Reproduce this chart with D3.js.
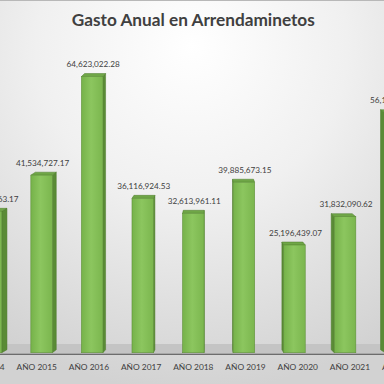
<!DOCTYPE html>
<html><head><meta charset="utf-8">
<script src="https://cdn.jsdelivr.net/npm/d3@7"></script>
<style>html,body{margin:0;padding:0;background:#fff}svg{display:block}</style>
</head><body>
<script>
const title = "Gasto Anual en Arrendaminetos";
const categories = ["AÑO 2014","AÑO 2015","AÑO 2016","AÑO 2017","AÑO 2018","AÑO 2019","AÑO 2020","AÑO 2021","AÑO 2022"];
const values = [33081863.17, 41534727.17, 64623022.28, 36116924.53, 32613961.11, 39885673.15, 25196439.07, 31832090.62, 56143617.42];

const W = 384, H = 384;
const svg = d3.select("body").append("svg").attr("width", W).attr("height", H);
const defs = svg.append("defs");
const bg = defs.append("radialGradient").attr("id","bg").attr("cx","50%").attr("cy","12%").attr("r","90%");
bg.append("stop").attr("offset","0%").attr("stop-color","#ffffff");
bg.append("stop").attr("offset","45%").attr("stop-color","#f0f0f0");
bg.append("stop").attr("offset","100%").attr("stop-color","#d2d2d2");
const fg = defs.append("linearGradient").attr("id","front").attr("x1","0").attr("x2","1").attr("y1","0").attr("y2","0");
fg.append("stop").attr("offset","0%").attr("stop-color","#76b24a");
fg.append("stop").attr("offset","45%").attr("stop-color","#8cc65f");
fg.append("stop").attr("offset","100%").attr("stop-color","#7bb64e");

svg.append("rect").attr("width",W).attr("height",H).attr("fill","url(#bg)");
svg.append("line").attr("x1",0).attr("x2",W).attr("y1",0.5).attr("y2",0.5).attr("stroke","#b8b8b8");

const base = 352.7;
const y = d3.scaleLinear().domain([0, 70e6]).range([base, base - 70*4.274]);
const x = d3.scalePoint().domain(categories).range([-34.29, 420.93]).padding(0.5);
const xl = d3.scalePoint().domain(categories).range([-41.6, 428.2]).padding(0.5);
const bw = 21.5, xv = 210, s = 0.975, dy = 3;
const back = v => xv + (v - xv)*s;

// floor
svg.append("rect").attr("x",0).attr("y",344).attr("width",W).attr("height",base+1-344).attr("fill","#c4c4c4");
svg.append("line").attr("x1",0).attr("x2",W).attr("y1",354.2).attr("y2",354.2).attr("stroke","#4a4a4a").attr("stroke-width",1.1);

const g = svg.append("g");
categories.forEach((c,i) => {
  const cx = x(c), x0 = cx - bw/2, x1 = cx + bw/2;
  const t = y(values[i]);
  const bx0 = back(x0), bx1 = back(x1);
  const bar = g.append("g");
  if (cx < xv) {
    bar.append("polygon").attr("points", [[x1,t],[bx1,t-dy],[bx1,base-dy],[x1,base]].join(" "))
      .attr("fill","#5a8b36").attr("stroke","#4c7a2b").attr("stroke-width",0.5);
  } else {
    bar.append("polygon").attr("points", [[x0,t],[bx0,t-dy],[bx0,base-dy],[x0,base]].join(" "))
      .attr("fill","#5a8b36").attr("stroke","#4c7a2b").attr("stroke-width",0.5);
  }
  bar.append("polygon").attr("points", [[x0,t],[x1,t],[bx1,t-dy],[bx0,t-dy]].join(" "))
    .attr("fill","#6fa647").attr("stroke","#4c7a2b").attr("stroke-width",0.5);
  bar.append("rect").attr("x",x0).attr("y",t).attr("width",bw).attr("height",base-t)
    .attr("fill","url(#front)").attr("stroke","#5f9139").attr("stroke-width",0.6);
  svg.append("text").attr("x",cx+1).attr("y",t-9.5).attr("text-anchor","middle")
    .attr("font-family","Lato, 'Open Sans', sans-serif").attr("font-size",8.2).attr("fill","#404040")
    .text(d3.format(",.2f")(values[i]));
  svg.append("text").attr("x",xl(c)).attr("y",370).attr("text-anchor","middle")
    .attr("font-family","Lato, 'Open Sans', sans-serif").attr("font-size",8.4).attr("fill","#404040")
    .text(c);
});

svg.append("text").attr("x",193.3).attr("y",26).attr("text-anchor","middle")
  .attr("font-family","Lato, 'Open Sans', sans-serif").attr("font-weight","bold").attr("font-size",17)
  .attr("fill","#404040").attr("textLength",243).attr("lengthAdjust","spacingAndGlyphs").text(title);
</script>
</body></html>
